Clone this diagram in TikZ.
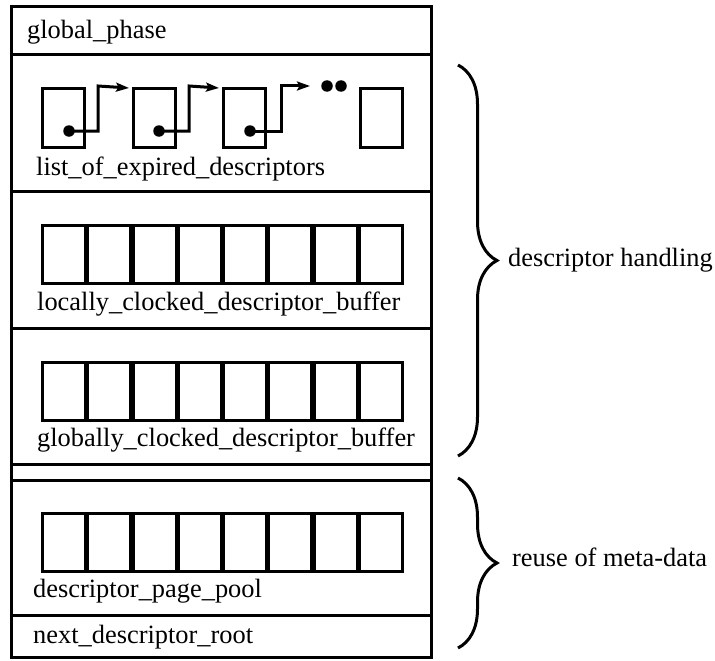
\documentclass[tikz,border=0pt]{standalone}
\usepackage{fontspec}
\setmainfont{Liberation Serif}
\usetikzlibrary{arrows.meta,decorations.pathreplacing}

\begin{document}
\begin{tikzpicture}[x=1pt,y=-1pt,
  frame/.style={line width=3pt},
  lbl/.style={anchor=base west,inner sep=0pt,font=\fontsize{26.4}{30}\selectfont},
  cell/.style={draw,line width=2.8pt,inner sep=0pt,minimum width=42.6pt,minimum height=58pt,anchor=north west},
  lnode/.style={draw,line width=3pt,inner sep=0pt,minimum width=42pt,minimum height=59pt,anchor=north west},
  ptr/.style={line width=3pt,-{Stealth[length=13pt,width=9pt,inset=2.5pt]}},
  dotmark/.style={circle,fill,inner sep=0pt,minimum size=11.5pt},
  brc/.style={decorate,decoration={brace,amplitude=39pt},line width=3pt}]
\useasboundingbox (0,0) rectangle (715,661);

% outer frame and section separators
\draw[frame] (11,7) rectangle (431,657);
\foreach \yy in {55,191,328,464,480,615}
  \draw[frame] (11,\yy) -- (431,\yy);

% section titles
\node[lbl] (gp)  at (27,39)  {global\_phase};
\node[lbl] (led) at (36,175) {list\_of\_expired\_descriptors};
\node[lbl] (lcb) at (37,310) {locally\_clocked\_descriptor\_buffer};
\node[lbl] (gcb) at (37,446) {globally\_clocked\_descriptor\_buffer};
\node[lbl] (dpp) at (33,597) {descriptor\_page\_pool};
\node[lbl] (ndr) at (33,643) {next\_descriptor\_root};

% linked list of expired descriptors
\node[lnode] (b1) at (41,87)  {};
\node[lnode] (b2) at (132,87) {};
\node[lnode] (b3) at (222,87) {};
\node[lnode] (b4) at (359,87) {};
\node[dotmark] (d1) at (69,131)  {};
\node[dotmark] (d2) at (159,131) {};
\node[dotmark] (d3) at (250,131) {};
\coordinate (k1) at (98,86);
\coordinate (k2) at (189,86);
\coordinate (k3) at (281,86);
\coordinate (e3) at (310,86);
\draw[ptr] (d1.center) -| (k1) -- ([xshift=-3pt,yshift=-1pt]b2.north west);
\draw[ptr] (d2.center) -| (k2) -- ([xshift=-3pt,yshift=-1pt]b3.north west);
\draw[ptr] (d3.center) -| (k3) -- (e3);
\node[dotmark] (el1) at (327,86) {};
\node[dotmark] (el2) at (341,86) {};

% fixed-size descriptor buffers (eight slots each)
\foreach \row/\top in {l/223, g/360, p/511}
  \foreach \i in {0,...,7}
    \node[cell] (\row\i) at ({41.4+45.25*\i},{\top+1.4}) {};

% braces grouping the sections
\coordinate (t1) at (458,65);
\coordinate (u1) at (458,456);
\coordinate (t2) at (458,478);
\coordinate (u2) at (458,648);
\draw[brc] (t1) -- (u1);
\draw[brc] (t2) -- (u2);
\node[lbl] (dh) at (508,266) {descriptor handling};
\node[lbl] (rm) at (512,566) {reuse of meta-data};
\end{tikzpicture}
\end{document}
